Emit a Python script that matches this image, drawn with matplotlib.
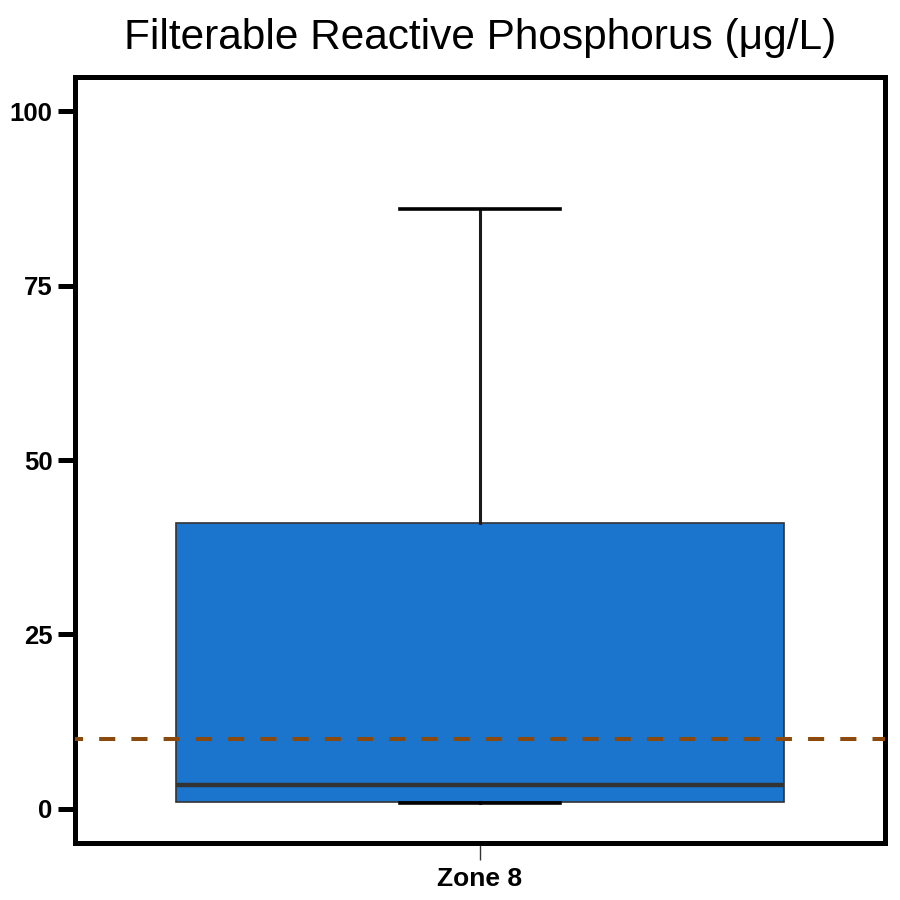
import matplotlib
matplotlib.use("Agg")
import matplotlib.pyplot as plt

# Data
categories = ["Zone 8"]
whisker_low = [0.9]
q1 = [1.0]
median = [3.4]
q3 = [41.0]
whisker_high = [86.0]
guideline = 10.0
y_ticks = [0, 25, 50, 75, 100]

plt.rcParams['font.family'] = ['Liberation Sans', 'DejaVu Sans']

fig = plt.figure(figsize=(9, 9), dpi=100)
ax = fig.add_axes([0.0833, 0.0633, 0.9, 0.851])

stats = []
for i, c in enumerate(categories):
    stats.append(dict(label=c, whislo=whisker_low[i], q1=q1[i], med=median[i],
                      q3=q3[i], whishi=whisker_high[i], fliers=[]))

ax.bxp(stats, positions=[1], widths=0.9, capwidths=0.237, patch_artist=True,
       showfliers=False,
       boxprops=dict(facecolor="#1b75cd", edgecolor="#333333", linewidth=1.2),
       medianprops=dict(color="#333333", linewidth=3.2),
       whiskerprops=dict(color="#1a1a1a", linewidth=2.2),
       capprops=dict(color="black", linewidth=2.6))

ax.axhline(guideline, color="#8b4a0c", linewidth=2.9, linestyle=(2, (4, 4)), zorder=5)

ax.set_xlim(0.4, 1.6)
ax.set_ylim(-4.9, 104.9)
ax.set_yticks(y_ticks)
ax.set_yticklabels([str(v) for v in y_ticks], fontsize=18.5, fontweight='bold')
ax.set_xticks([1])
ax.set_xticklabels(categories, fontsize=19, fontweight='bold')

for s in ax.spines.values():
    s.set_linewidth(3.6)
    s.set_color("black")

ax.tick_params(axis='y', length=12, width=3.6, color='black', pad=4)
ax.tick_params(axis='x', length=12, width=1, color='#333333', pad=5)

ax.set_title("Filterable Reactive Phosphorus (μg/L)", fontsize=30.5, pad=20)

fig.savefig("out.png", dpi=100)
